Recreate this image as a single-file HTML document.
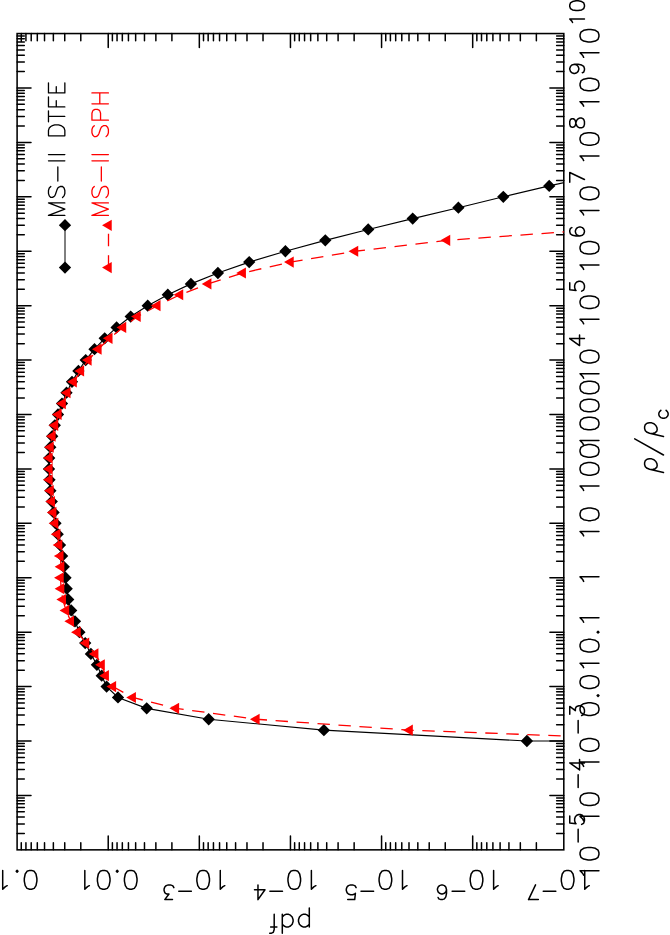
<!DOCTYPE html>
<html><head><meta charset="utf-8"><title>pdf</title>
<style>html,body{margin:0;padding:0;background:#fff;font-family:"Liberation Sans",sans-serif}svg{display:block}</style></head>
<body>
<svg width="670" height="935" viewBox="0 0 670 935">
<rect width="670" height="935" fill="#fff"/>
<path d="M17.10 833.47h7.20 M563.80 833.47h-7.20 M17.10 823.89h7.20 M563.80 823.89h-7.20 M17.10 817.09h7.20 M563.80 817.09h-7.20 M17.10 811.81h7.20 M563.80 811.81h-7.20 M17.10 807.50h7.20 M563.80 807.50h-7.20 M17.10 803.86h7.20 M563.80 803.86h-7.20 M17.10 800.70h7.20 M563.80 800.70h-7.20 M17.10 797.92h7.20 M563.80 797.92h-7.20 M17.10 795.43h13.90 M563.80 795.43h-13.90 M17.10 779.05h7.20 M563.80 779.05h-7.20 M17.10 769.47h7.20 M563.80 769.47h-7.20 M17.10 762.67h7.20 M563.80 762.67h-7.20 M17.10 757.39h7.20 M563.80 757.39h-7.20 M17.10 753.08h7.20 M563.80 753.08h-7.20 M17.10 749.44h7.20 M563.80 749.44h-7.20 M17.10 746.28h7.20 M563.80 746.28h-7.20 M17.10 743.50h7.20 M563.80 743.50h-7.20 M17.10 741.01h13.90 M563.80 741.01h-13.90 M17.10 724.63h7.20 M563.80 724.63h-7.20 M17.10 715.05h7.20 M563.80 715.05h-7.20 M17.10 708.25h7.20 M563.80 708.25h-7.20 M17.10 702.97h7.20 M563.80 702.97h-7.20 M17.10 698.66h7.20 M563.80 698.66h-7.20 M17.10 695.02h7.20 M563.80 695.02h-7.20 M17.10 691.86h7.20 M563.80 691.86h-7.20 M17.10 689.08h7.20 M563.80 689.08h-7.20 M17.10 686.59h13.90 M563.80 686.59h-13.90 M17.10 670.21h7.20 M563.80 670.21h-7.20 M17.10 660.63h7.20 M563.80 660.63h-7.20 M17.10 653.83h7.20 M563.80 653.83h-7.20 M17.10 648.55h7.20 M563.80 648.55h-7.20 M17.10 644.24h7.20 M563.80 644.24h-7.20 M17.10 640.60h7.20 M563.80 640.60h-7.20 M17.10 637.44h7.20 M563.80 637.44h-7.20 M17.10 634.66h7.20 M563.80 634.66h-7.20 M17.10 632.17h13.90 M563.80 632.17h-13.90 M17.10 615.79h7.20 M563.80 615.79h-7.20 M17.10 606.21h7.20 M563.80 606.21h-7.20 M17.10 599.41h7.20 M563.80 599.41h-7.20 M17.10 594.13h7.20 M563.80 594.13h-7.20 M17.10 589.82h7.20 M563.80 589.82h-7.20 M17.10 586.18h7.20 M563.80 586.18h-7.20 M17.10 583.02h7.20 M563.80 583.02h-7.20 M17.10 580.24h7.20 M563.80 580.24h-7.20 M17.10 577.75h13.90 M563.80 577.75h-13.90 M17.10 561.37h7.20 M563.80 561.37h-7.20 M17.10 551.79h7.20 M563.80 551.79h-7.20 M17.10 544.99h7.20 M563.80 544.99h-7.20 M17.10 539.71h7.20 M563.80 539.71h-7.20 M17.10 535.40h7.20 M563.80 535.40h-7.20 M17.10 531.76h7.20 M563.80 531.76h-7.20 M17.10 528.60h7.20 M563.80 528.60h-7.20 M17.10 525.82h7.20 M563.80 525.82h-7.20 M17.10 523.33h13.90 M563.80 523.33h-13.90 M17.10 506.95h7.20 M563.80 506.95h-7.20 M17.10 497.37h7.20 M563.80 497.37h-7.20 M17.10 490.57h7.20 M563.80 490.57h-7.20 M17.10 485.29h7.20 M563.80 485.29h-7.20 M17.10 480.98h7.20 M563.80 480.98h-7.20 M17.10 477.34h7.20 M563.80 477.34h-7.20 M17.10 474.18h7.20 M563.80 474.18h-7.20 M17.10 471.40h7.20 M563.80 471.40h-7.20 M17.10 468.91h13.90 M563.80 468.91h-13.90 M17.10 452.53h7.20 M563.80 452.53h-7.20 M17.10 442.95h7.20 M563.80 442.95h-7.20 M17.10 436.15h7.20 M563.80 436.15h-7.20 M17.10 430.87h7.20 M563.80 430.87h-7.20 M17.10 426.56h7.20 M563.80 426.56h-7.20 M17.10 422.92h7.20 M563.80 422.92h-7.20 M17.10 419.76h7.20 M563.80 419.76h-7.20 M17.10 416.98h7.20 M563.80 416.98h-7.20 M17.10 414.49h13.90 M563.80 414.49h-13.90 M17.10 398.11h7.20 M563.80 398.11h-7.20 M17.10 388.53h7.20 M563.80 388.53h-7.20 M17.10 381.73h7.20 M563.80 381.73h-7.20 M17.10 376.45h7.20 M563.80 376.45h-7.20 M17.10 372.14h7.20 M563.80 372.14h-7.20 M17.10 368.50h7.20 M563.80 368.50h-7.20 M17.10 365.34h7.20 M563.80 365.34h-7.20 M17.10 362.56h7.20 M563.80 362.56h-7.20 M17.10 360.07h13.90 M563.80 360.07h-13.90 M17.10 343.69h7.20 M563.80 343.69h-7.20 M17.10 334.11h7.20 M563.80 334.11h-7.20 M17.10 327.31h7.20 M563.80 327.31h-7.20 M17.10 322.03h7.20 M563.80 322.03h-7.20 M17.10 317.72h7.20 M563.80 317.72h-7.20 M17.10 314.08h7.20 M563.80 314.08h-7.20 M17.10 310.92h7.20 M563.80 310.92h-7.20 M17.10 308.14h7.20 M563.80 308.14h-7.20 M17.10 305.65h13.90 M563.80 305.65h-13.90 M17.10 289.27h7.20 M563.80 289.27h-7.20 M17.10 279.69h7.20 M563.80 279.69h-7.20 M17.10 272.89h7.20 M563.80 272.89h-7.20 M17.10 267.61h7.20 M563.80 267.61h-7.20 M17.10 263.30h7.20 M563.80 263.30h-7.20 M17.10 259.66h7.20 M563.80 259.66h-7.20 M17.10 256.50h7.20 M563.80 256.50h-7.20 M17.10 253.72h7.20 M563.80 253.72h-7.20 M17.10 251.23h13.90 M563.80 251.23h-13.90 M17.10 234.85h7.20 M563.80 234.85h-7.20 M17.10 225.27h7.20 M563.80 225.27h-7.20 M17.10 218.47h7.20 M563.80 218.47h-7.20 M17.10 213.19h7.20 M563.80 213.19h-7.20 M17.10 208.88h7.20 M563.80 208.88h-7.20 M17.10 205.24h7.20 M563.80 205.24h-7.20 M17.10 202.08h7.20 M563.80 202.08h-7.20 M17.10 199.30h7.20 M563.80 199.30h-7.20 M17.10 196.81h13.90 M563.80 196.81h-13.90 M17.10 180.43h7.20 M563.80 180.43h-7.20 M17.10 170.85h7.20 M563.80 170.85h-7.20 M17.10 164.05h7.20 M563.80 164.05h-7.20 M17.10 158.77h7.20 M563.80 158.77h-7.20 M17.10 154.46h7.20 M563.80 154.46h-7.20 M17.10 150.82h7.20 M563.80 150.82h-7.20 M17.10 147.66h7.20 M563.80 147.66h-7.20 M17.10 144.88h7.20 M563.80 144.88h-7.20 M17.10 142.39h13.90 M563.80 142.39h-13.90 M17.10 126.01h7.20 M563.80 126.01h-7.20 M17.10 116.43h7.20 M563.80 116.43h-7.20 M17.10 109.63h7.20 M563.80 109.63h-7.20 M17.10 104.35h7.20 M563.80 104.35h-7.20 M17.10 100.04h7.20 M563.80 100.04h-7.20 M17.10 96.40h7.20 M563.80 96.40h-7.20 M17.10 93.24h7.20 M563.80 93.24h-7.20 M17.10 90.46h7.20 M563.80 90.46h-7.20 M17.10 87.97h13.90 M563.80 87.97h-13.90 M17.10 71.59h7.20 M563.80 71.59h-7.20 M17.10 62.01h7.20 M563.80 62.01h-7.20 M17.10 55.21h7.20 M563.80 55.21h-7.20 M17.10 49.93h7.20 M563.80 49.93h-7.20 M17.10 45.62h7.20 M563.80 45.62h-7.20 M17.10 41.98h7.20 M563.80 41.98h-7.20 M17.10 38.82h7.20 M563.80 38.82h-7.20 M17.10 36.04h7.20 M563.80 36.04h-7.20 M80.79 33.55v7.20 M80.79 849.85v-7.20 M64.74 33.55v7.20 M64.74 849.85v-7.20 M53.36 33.55v7.20 M53.36 849.85v-7.20 M44.53 33.55v7.20 M44.53 849.85v-7.20 M37.31 33.55v7.20 M37.31 849.85v-7.20 M31.21 33.55v7.20 M31.21 849.85v-7.20 M25.93 33.55v7.20 M25.93 849.85v-7.20 M21.27 33.55v7.20 M21.27 849.85v-7.20 M108.22 33.55v13.90 M108.22 849.85v-13.90 M171.90 33.55v7.20 M171.90 849.85v-7.20 M155.86 33.55v7.20 M155.86 849.85v-7.20 M144.48 33.55v7.20 M144.48 849.85v-7.20 M135.65 33.55v7.20 M135.65 849.85v-7.20 M128.43 33.55v7.20 M128.43 849.85v-7.20 M122.33 33.55v7.20 M122.33 849.85v-7.20 M117.05 33.55v7.20 M117.05 849.85v-7.20 M112.39 33.55v7.20 M112.39 849.85v-7.20 M199.33 33.55v13.90 M199.33 849.85v-13.90 M263.02 33.55v7.20 M263.02 849.85v-7.20 M246.98 33.55v7.20 M246.98 849.85v-7.20 M235.59 33.55v7.20 M235.59 849.85v-7.20 M226.76 33.55v7.20 M226.76 849.85v-7.20 M219.55 33.55v7.20 M219.55 849.85v-7.20 M213.45 33.55v7.20 M213.45 849.85v-7.20 M208.16 33.55v7.20 M208.16 849.85v-7.20 M203.50 33.55v7.20 M203.50 849.85v-7.20 M290.45 33.55v13.90 M290.45 849.85v-13.90 M354.14 33.55v7.20 M354.14 849.85v-7.20 M338.09 33.55v7.20 M338.09 849.85v-7.20 M326.71 33.55v7.20 M326.71 849.85v-7.20 M317.88 33.55v7.20 M317.88 849.85v-7.20 M310.66 33.55v7.20 M310.66 849.85v-7.20 M304.56 33.55v7.20 M304.56 849.85v-7.20 M299.28 33.55v7.20 M299.28 849.85v-7.20 M294.62 33.55v7.20 M294.62 849.85v-7.20 M381.57 33.55v13.90 M381.57 849.85v-13.90 M445.25 33.55v7.20 M445.25 849.85v-7.20 M429.21 33.55v7.20 M429.21 849.85v-7.20 M417.83 33.55v7.20 M417.83 849.85v-7.20 M409.00 33.55v7.20 M409.00 849.85v-7.20 M401.78 33.55v7.20 M401.78 849.85v-7.20 M395.68 33.55v7.20 M395.68 849.85v-7.20 M390.40 33.55v7.20 M390.40 849.85v-7.20 M385.74 33.55v7.20 M385.74 849.85v-7.20 M472.68 33.55v13.90 M472.68 849.85v-13.90 M536.37 33.55v7.20 M536.37 849.85v-7.20 M520.33 33.55v7.20 M520.33 849.85v-7.20 M508.94 33.55v7.20 M508.94 849.85v-7.20 M500.11 33.55v7.20 M500.11 849.85v-7.20 M492.90 33.55v7.20 M492.90 849.85v-7.20 M486.80 33.55v7.20 M486.80 849.85v-7.20 M481.51 33.55v7.20 M481.51 849.85v-7.20 M476.85 33.55v7.20 M476.85 849.85v-7.20" stroke="#000" stroke-width="1.5" fill="none" stroke-linecap="round"/>
<rect x="17.10" y="33.55" width="546.70" height="816.30" fill="none" stroke="#000" stroke-width="1.55"/>
<clipPath id="c"><rect x="17.10" y="33.55" width="546.70" height="816.30"/></clipPath>
<g clip-path="url(#c)">
<polyline points="563.80,741.01 526.90,741.01 323.90,730.13 208.70,719.24 146.70,708.36 118.00,697.47 106.60,686.59 101.70,675.71 96.90,664.82 90.90,653.94 85.20,643.05 79.40,632.17 75.00,621.29 71.20,610.40 68.20,599.52 66.70,588.63 65.50,577.75 63.80,566.87 62.10,555.98 60.00,545.10 57.70,534.21 55.50,523.33 53.60,512.45 51.80,501.56 50.40,490.68 49.50,479.79 49.00,468.91 49.20,458.03 50.30,447.14 52.20,436.26 54.80,425.37 58.00,414.49 62.00,403.61 66.50,392.72 72.00,381.84 78.40,370.95 85.70,360.07 94.50,349.19 104.70,338.30 116.60,327.42 130.70,316.53 147.70,305.65 167.80,294.77 190.90,283.88 217.90,273.00 249.20,262.11 285.40,251.23 325.30,240.35 368.20,229.46 412.70,218.58 458.40,207.69 503.30,196.81 549.20,185.93 598.00,175.04" fill="none" stroke="#000" stroke-width="1.15"/>
</g>
<path d="M520.75 741.01l6.15 -6.15l6.15 6.15l-6.15 6.15z M317.75 730.13l6.15 -6.15l6.15 6.15l-6.15 6.15z M202.55 719.24l6.15 -6.15l6.15 6.15l-6.15 6.15z M140.55 708.36l6.15 -6.15l6.15 6.15l-6.15 6.15z M111.85 697.47l6.15 -6.15l6.15 6.15l-6.15 6.15z M100.45 686.59l6.15 -6.15l6.15 6.15l-6.15 6.15z M95.55 675.71l6.15 -6.15l6.15 6.15l-6.15 6.15z M90.75 664.82l6.15 -6.15l6.15 6.15l-6.15 6.15z M84.75 653.94l6.15 -6.15l6.15 6.15l-6.15 6.15z M79.05 643.05l6.15 -6.15l6.15 6.15l-6.15 6.15z M73.25 632.17l6.15 -6.15l6.15 6.15l-6.15 6.15z M68.85 621.29l6.15 -6.15l6.15 6.15l-6.15 6.15z M65.05 610.40l6.15 -6.15l6.15 6.15l-6.15 6.15z M62.05 599.52l6.15 -6.15l6.15 6.15l-6.15 6.15z M60.55 588.63l6.15 -6.15l6.15 6.15l-6.15 6.15z M59.35 577.75l6.15 -6.15l6.15 6.15l-6.15 6.15z M57.65 566.87l6.15 -6.15l6.15 6.15l-6.15 6.15z M55.95 555.98l6.15 -6.15l6.15 6.15l-6.15 6.15z M53.85 545.10l6.15 -6.15l6.15 6.15l-6.15 6.15z M51.55 534.21l6.15 -6.15l6.15 6.15l-6.15 6.15z M49.35 523.33l6.15 -6.15l6.15 6.15l-6.15 6.15z M47.45 512.45l6.15 -6.15l6.15 6.15l-6.15 6.15z M45.65 501.56l6.15 -6.15l6.15 6.15l-6.15 6.15z M44.25 490.68l6.15 -6.15l6.15 6.15l-6.15 6.15z M43.35 479.79l6.15 -6.15l6.15 6.15l-6.15 6.15z M42.85 468.91l6.15 -6.15l6.15 6.15l-6.15 6.15z M43.05 458.03l6.15 -6.15l6.15 6.15l-6.15 6.15z M44.15 447.14l6.15 -6.15l6.15 6.15l-6.15 6.15z M46.05 436.26l6.15 -6.15l6.15 6.15l-6.15 6.15z M48.65 425.37l6.15 -6.15l6.15 6.15l-6.15 6.15z M51.85 414.49l6.15 -6.15l6.15 6.15l-6.15 6.15z M55.85 403.61l6.15 -6.15l6.15 6.15l-6.15 6.15z M60.35 392.72l6.15 -6.15l6.15 6.15l-6.15 6.15z M65.85 381.84l6.15 -6.15l6.15 6.15l-6.15 6.15z M72.25 370.95l6.15 -6.15l6.15 6.15l-6.15 6.15z M79.55 360.07l6.15 -6.15l6.15 6.15l-6.15 6.15z M88.35 349.19l6.15 -6.15l6.15 6.15l-6.15 6.15z M98.55 338.30l6.15 -6.15l6.15 6.15l-6.15 6.15z M110.45 327.42l6.15 -6.15l6.15 6.15l-6.15 6.15z M124.55 316.53l6.15 -6.15l6.15 6.15l-6.15 6.15z M141.55 305.65l6.15 -6.15l6.15 6.15l-6.15 6.15z M161.65 294.77l6.15 -6.15l6.15 6.15l-6.15 6.15z M184.75 283.88l6.15 -6.15l6.15 6.15l-6.15 6.15z M211.75 273.00l6.15 -6.15l6.15 6.15l-6.15 6.15z M243.05 262.11l6.15 -6.15l6.15 6.15l-6.15 6.15z M279.25 251.23l6.15 -6.15l6.15 6.15l-6.15 6.15z M319.15 240.35l6.15 -6.15l6.15 6.15l-6.15 6.15z M362.05 229.46l6.15 -6.15l6.15 6.15l-6.15 6.15z M406.55 218.58l6.15 -6.15l6.15 6.15l-6.15 6.15z M452.25 207.69l6.15 -6.15l6.15 6.15l-6.15 6.15z M497.15 196.81l6.15 -6.15l6.15 6.15l-6.15 6.15z M543.05 185.93l6.15 -6.15l6.15 6.15l-6.15 6.15z" fill="#000"/>
<g clip-path="url(#c)">
<polyline points="697.00,741.01 409.60,730.13 256.40,719.24 175.90,708.36 132.70,697.47 112.90,686.59 105.70,675.71 101.60,664.82 95.20,653.94 86.00,643.05 77.50,632.17 70.80,621.29 66.00,610.40 62.80,599.52 61.10,588.63 60.50,577.75 61.10,566.87 60.30,555.98 59.10,545.10 57.20,534.21 55.10,523.33 53.20,512.45 51.70,501.56 50.50,490.68 49.40,479.79 49.40,468.91 49.40,458.03 50.50,447.14 52.40,436.26 55.00,425.37 58.40,414.49 62.60,403.61 67.30,392.72 73.60,381.84 80.90,370.95 88.40,360.07 98.40,349.19 109.30,338.30 123.00,327.42 137.50,316.53 157.30,305.65 180.00,294.77 208.20,283.88" fill="none" stroke="#f00" stroke-width="1.3" stroke-dasharray="12.41 8.602" stroke-dashoffset="10.686"/>
<polyline points="208.20,283.88 242.70,273.00 290.50,262.11 355.00,251.23 447.00,240.35 598.00,229.46" fill="none" stroke="#f00" stroke-width="1.3" stroke-dasharray="12.45 8.634" stroke-dashoffset="20.43"/>
</g>
<path d="M403.15 730.13L412.83 724.54L412.83 735.71z M249.95 719.24L259.62 713.66L259.62 724.83z M169.45 708.36L179.12 702.77L179.12 713.94z M126.25 697.47L135.92 691.89L135.92 703.06z M106.45 686.59L116.12 681.00L116.12 692.18z M99.25 675.71L108.92 670.12L108.92 681.29z M95.15 664.82L104.82 659.24L104.82 670.41z M88.75 653.94L98.42 648.35L98.42 659.52z M79.55 643.05L89.22 637.47L89.22 648.64z M71.05 632.17L80.72 626.58L80.72 637.76z M64.35 621.29L74.02 615.70L74.02 626.87z M59.55 610.40L69.22 604.82L69.22 615.99z M56.35 599.52L66.02 593.93L66.02 605.10z M54.65 588.63L64.33 583.05L64.33 594.22z M54.05 577.75L63.73 572.16L63.73 583.34z M54.65 566.87L64.33 561.28L64.33 572.45z M53.85 555.98L63.52 550.40L63.52 561.57z M52.65 545.10L62.33 539.51L62.33 550.68z M50.75 534.21L60.43 528.63L60.43 539.80z M48.65 523.33L58.33 517.74L58.33 528.92z M46.75 512.45L56.43 506.86L56.43 518.03z M45.25 501.56L54.93 495.98L54.93 507.15z M44.05 490.68L53.73 485.09L53.73 496.26z M42.95 479.79L52.62 474.21L52.62 485.38z M42.95 468.91L52.62 463.32L52.62 474.50z M42.95 458.03L52.62 452.44L52.62 463.61z M44.05 447.14L53.73 441.56L53.73 452.73z M45.95 436.26L55.62 430.67L55.62 441.84z M48.55 425.37L58.23 419.79L58.23 430.96z M51.95 414.49L61.62 408.90L61.62 420.08z M56.15 403.61L65.83 398.02L65.83 409.19z M60.85 392.72L70.52 387.14L70.52 398.31z M67.15 381.84L76.82 376.25L76.82 387.42z M74.45 370.95L84.12 365.37L84.12 376.54z M81.95 360.07L91.62 354.48L91.62 365.66z M91.95 349.19L101.62 343.60L101.62 354.77z M102.85 338.30L112.52 332.72L112.52 343.89z M116.55 327.42L126.22 321.83L126.22 333.00z M131.05 316.53L140.72 310.95L140.72 322.12z M150.85 305.65L160.53 300.06L160.53 311.24z M173.55 294.77L183.22 289.18L183.22 300.35z M201.75 283.88L211.42 278.30L211.42 289.47z M236.25 273.00L245.92 267.41L245.92 278.58z M284.05 262.11L293.73 256.53L293.73 267.70z M348.55 251.23L358.23 245.64L358.23 256.82z M440.55 240.35L450.23 234.76L450.23 245.93z" fill="#f00"/>
<path d="M65 225.2V267.6" stroke="#000" stroke-width="1" fill="none"/>
<path d="M58.85 225.20l6.15 -6.15l6.15 6.15l-6.15 6.15z" fill="#000"/>
<path d="M58.85 267.60l6.15 -6.15l6.15 6.15l-6.15 6.15z" fill="#000"/>
<path d="M108.5 267.6V225.2" stroke="#f00" stroke-width="1.3" stroke-dasharray="12.4 9" fill="none"/>
<path d="M102.05 225.30L111.72 219.71L111.72 230.89z M102.05 267.60L111.72 262.01L111.72 273.19z" fill="#f00"/>
<path d="M48.47 215.38 L64.85 215.38 M48.47 215.38 L64.85 209.14 M48.47 202.90 L64.85 209.14 M48.47 202.90 L64.85 202.90 M50.81 186.52 L49.25 188.08 L48.47 190.42 L48.47 193.54 L49.25 195.88 L50.81 197.44 L52.37 197.44 L53.93 196.66 L54.71 195.88 L55.49 194.32 L57.05 189.64 L57.83 188.08 L58.61 187.30 L60.17 186.52 L62.51 186.52 L64.07 188.08 L64.85 190.42 L64.85 193.54 L64.07 195.88 L62.51 197.44 M57.83 181.06 L57.83 167.02 M48.47 160.78 L64.85 160.78 M48.47 154.54 L64.85 154.54 M48.47 135.82 L64.85 135.82 M48.47 135.82 L48.47 130.36 L49.25 128.02 L50.81 126.46 L52.37 125.68 L54.71 124.90 L58.61 124.90 L60.95 125.68 L62.51 126.46 L64.07 128.02 L64.85 130.36 L64.85 135.82 M48.47 116.32 L64.85 116.32 M48.47 121.78 L48.47 110.86 M48.47 106.96 L64.85 106.96 M48.47 106.96 L48.47 96.82 M56.27 106.96 L56.27 100.72 M48.47 92.92 L64.85 92.92 M48.47 92.92 L48.47 82.78 M56.27 92.92 L56.27 86.68 M64.85 92.92 L64.85 82.78" stroke="#000" stroke-width="1.3" fill="none" stroke-linejoin="round" stroke-linecap="round"/>
<path d="M91.94 215.38 L108.40 215.38 M91.94 215.38 L108.40 209.14 M91.94 202.90 L108.40 209.14 M91.94 202.90 L108.40 202.90 M94.29 186.52 L92.72 188.08 L91.94 190.42 L91.94 193.54 L92.72 195.88 L94.29 197.44 L95.86 197.44 L97.43 196.66 L98.21 195.88 L98.99 194.32 L100.56 189.64 L101.34 188.08 L102.13 187.30 L103.70 186.52 L106.05 186.52 L107.62 188.08 L108.40 190.42 L108.40 193.54 L107.62 195.88 L106.05 197.44 M101.34 181.06 L101.34 167.02 M91.94 160.78 L108.40 160.78 M91.94 154.54 L108.40 154.54 M94.29 125.68 L92.72 127.24 L91.94 129.58 L91.94 132.70 L92.72 135.04 L94.29 136.60 L95.86 136.60 L97.43 135.82 L98.21 135.04 L98.99 133.48 L100.56 128.80 L101.34 127.24 L102.13 126.46 L103.70 125.68 L106.05 125.68 L107.62 127.24 L108.40 129.58 L108.40 132.70 L107.62 135.04 L106.05 136.60 M91.94 120.22 L108.40 120.22 M91.94 120.22 L91.94 113.20 L92.72 110.86 L93.51 110.08 L95.07 109.30 L97.43 109.30 L98.99 110.08 L99.78 110.86 L100.56 113.20 L100.56 120.22 M91.94 103.84 L108.40 103.84 M91.94 92.92 L108.40 92.92 M99.78 103.84 L99.78 92.92" stroke="#f00" stroke-width="1.3" fill="none" stroke-linejoin="round" stroke-linecap="round"/>
<path d="M583.65 875.28 L582.75 873.48 L580.05 870.78 L598.95 870.78 M580.05 854.58 L580.95 857.28 L583.65 859.08 L588.15 859.98 L590.85 859.98 L595.35 859.08 L598.05 857.28 L598.95 854.58 L598.95 852.78 L598.05 850.08 L595.35 848.28 L590.85 847.38 L588.15 847.38 L583.65 848.28 L580.95 850.08 L580.05 852.78 L580.05 854.58 M578.15 841.88 L578.15 829.28 M569.75 815.98 L569.75 822.98 L576.05 823.68 L575.35 822.98 L574.65 820.88 L574.65 818.78 L575.35 816.68 L576.75 815.28 L578.85 814.58 L580.25 814.58 L582.35 815.28 L583.75 816.68 L584.45 818.78 L584.45 820.88 L583.75 822.98 L583.05 823.68 L581.65 824.38 M583.65 820.86 L582.75 819.06 L580.05 816.36 L598.95 816.36 M580.05 800.16 L580.95 802.86 L583.65 804.66 L588.15 805.56 L590.85 805.56 L595.35 804.66 L598.05 802.86 L598.95 800.16 L598.95 798.36 L598.05 795.66 L595.35 793.86 L590.85 792.96 L588.15 792.96 L583.65 793.86 L580.95 795.66 L580.05 798.36 L580.05 800.16 M578.15 787.46 L578.15 774.86 M569.75 762.96 L579.55 769.96 L579.55 759.46 M569.75 762.96 L584.45 762.96 M583.65 766.44 L582.75 764.64 L580.05 761.94 L598.95 761.94 M580.05 745.74 L580.95 748.44 L583.65 750.24 L588.15 751.14 L590.85 751.14 L595.35 750.24 L598.05 748.44 L598.95 745.74 L598.95 743.94 L598.05 741.24 L595.35 739.44 L590.85 738.54 L588.15 738.54 L583.65 739.44 L580.95 741.24 L580.05 743.94 L580.05 745.74 M578.15 733.04 L578.15 720.44 M569.75 714.14 L569.75 706.44 L575.35 710.64 L575.35 708.54 L576.05 707.14 L576.75 706.44 L578.85 705.74 L580.25 705.74 L582.35 706.44 L583.75 707.84 L584.45 709.94 L584.45 712.04 L583.75 714.14 L583.05 714.84 L581.65 715.54 M580.05 709.99 L580.95 712.69 L583.65 714.49 L588.15 715.39 L590.85 715.39 L595.35 714.49 L598.05 712.69 L598.95 709.99 L598.95 708.19 L598.05 705.49 L595.35 703.69 L590.85 702.79 L588.15 702.79 L583.65 703.69 L580.95 705.49 L580.05 708.19 L580.05 709.99 M597.15 695.59 L598.05 696.49 L598.95 695.59 L598.05 694.69 L597.15 695.59 M580.05 682.99 L580.95 685.69 L583.65 687.49 L588.15 688.39 L590.85 688.39 L595.35 687.49 L598.05 685.69 L598.95 682.99 L598.95 681.19 L598.05 678.49 L595.35 676.69 L590.85 675.79 L588.15 675.79 L583.65 676.69 L580.95 678.49 L580.05 681.19 L580.05 682.99 M583.65 667.69 L582.75 665.89 L580.05 663.19 L598.95 663.19 M580.05 646.57 L580.95 649.27 L583.65 651.07 L588.15 651.97 L590.85 651.97 L595.35 651.07 L598.05 649.27 L598.95 646.57 L598.95 644.77 L598.05 642.07 L595.35 640.27 L590.85 639.37 L588.15 639.37 L583.65 640.27 L580.95 642.07 L580.05 644.77 L580.05 646.57 M597.15 632.17 L598.05 633.07 L598.95 632.17 L598.05 631.27 L597.15 632.17 M583.65 622.27 L582.75 620.47 L580.05 617.77 L598.95 617.77 M583.65 581.35 L582.75 579.55 L580.05 576.85 L598.95 576.85 M583.65 535.93 L582.75 534.13 L580.05 531.43 L598.95 531.43 M580.05 515.23 L580.95 517.93 L583.65 519.73 L588.15 520.63 L590.85 520.63 L595.35 519.73 L598.05 517.93 L598.95 515.23 L598.95 513.43 L598.05 510.73 L595.35 508.93 L590.85 508.03 L588.15 508.03 L583.65 508.93 L580.95 510.73 L580.05 513.43 L580.05 515.23 M583.65 490.51 L582.75 488.71 L580.05 486.01 L598.95 486.01 M580.05 469.81 L580.95 472.51 L583.65 474.31 L588.15 475.21 L590.85 475.21 L595.35 474.31 L598.05 472.51 L598.95 469.81 L598.95 468.01 L598.05 465.31 L595.35 463.51 L590.85 462.61 L588.15 462.61 L583.65 463.51 L580.95 465.31 L580.05 468.01 L580.05 469.81 M580.05 451.81 L580.95 454.51 L583.65 456.31 L588.15 457.21 L590.85 457.21 L595.35 456.31 L598.05 454.51 L598.95 451.81 L598.95 450.01 L598.05 447.31 L595.35 445.51 L590.85 444.61 L588.15 444.61 L583.65 445.51 L580.95 447.31 L580.05 450.01 L580.05 451.81 M583.65 445.09 L582.75 443.29 L580.05 440.59 L598.95 440.59 M580.05 424.39 L580.95 427.09 L583.65 428.89 L588.15 429.79 L590.85 429.79 L595.35 428.89 L598.05 427.09 L598.95 424.39 L598.95 422.59 L598.05 419.89 L595.35 418.09 L590.85 417.19 L588.15 417.19 L583.65 418.09 L580.95 419.89 L580.05 422.59 L580.05 424.39 M580.05 406.39 L580.95 409.09 L583.65 410.89 L588.15 411.79 L590.85 411.79 L595.35 410.89 L598.05 409.09 L598.95 406.39 L598.95 404.59 L598.05 401.89 L595.35 400.09 L590.85 399.19 L588.15 399.19 L583.65 400.09 L580.95 401.89 L580.05 404.59 L580.05 406.39 M580.05 388.39 L580.95 391.09 L583.65 392.89 L588.15 393.79 L590.85 393.79 L595.35 392.89 L598.05 391.09 L598.95 388.39 L598.95 386.59 L598.05 383.89 L595.35 382.09 L590.85 381.19 L588.15 381.19 L583.65 382.09 L580.95 383.89 L580.05 386.59 L580.05 388.39 M583.65 378.25 L582.75 376.45 L580.05 373.75 L598.95 373.75 M580.05 357.55 L580.95 360.25 L583.65 362.05 L588.15 362.95 L590.85 362.95 L595.35 362.05 L598.05 360.25 L598.95 357.55 L598.95 355.75 L598.05 353.05 L595.35 351.25 L590.85 350.35 L588.15 350.35 L583.65 351.25 L580.95 353.05 L580.05 355.75 L580.05 357.55 M569.75 338.55 L579.55 345.55 L579.55 335.05 M569.75 338.55 L584.45 338.55 M583.65 323.83 L582.75 322.03 L580.05 319.33 L598.95 319.33 M580.05 303.13 L580.95 305.83 L583.65 307.63 L588.15 308.53 L590.85 308.53 L595.35 307.63 L598.05 305.83 L598.95 303.13 L598.95 301.33 L598.05 298.63 L595.35 296.83 L590.85 295.93 L588.15 295.93 L583.65 296.83 L580.95 298.63 L580.05 301.33 L580.05 303.13 M569.75 282.73 L569.75 289.73 L576.05 290.43 L575.35 289.73 L574.65 287.63 L574.65 285.53 L575.35 283.43 L576.75 282.03 L578.85 281.33 L580.25 281.33 L582.35 282.03 L583.75 283.43 L584.45 285.53 L584.45 287.63 L583.75 289.73 L583.05 290.43 L581.65 291.13 M583.65 269.41 L582.75 267.61 L580.05 264.91 L598.95 264.91 M580.05 248.71 L580.95 251.41 L583.65 253.21 L588.15 254.11 L590.85 254.11 L595.35 253.21 L598.05 251.41 L598.95 248.71 L598.95 246.91 L598.05 244.21 L595.35 242.41 L590.85 241.51 L588.15 241.51 L583.65 242.41 L580.95 244.21 L580.05 246.91 L580.05 248.71 M571.85 227.61 L570.45 228.31 L569.75 230.41 L569.75 231.81 L570.45 233.91 L572.55 235.31 L576.05 236.01 L579.55 236.01 L582.35 235.31 L583.75 233.91 L584.45 231.81 L584.45 231.11 L583.75 229.01 L582.35 227.61 L580.25 226.91 L579.55 226.91 L577.45 227.61 L576.05 229.01 L575.35 231.11 L575.35 231.81 L576.05 233.91 L577.45 235.31 L579.55 236.01 M583.65 214.99 L582.75 213.19 L580.05 210.49 L598.95 210.49 M580.05 194.29 L580.95 196.99 L583.65 198.79 L588.15 199.69 L590.85 199.69 L595.35 198.79 L598.05 196.99 L598.95 194.29 L598.95 192.49 L598.05 189.79 L595.35 187.99 L590.85 187.09 L588.15 187.09 L583.65 187.99 L580.95 189.79 L580.05 192.49 L580.05 194.29 M569.75 172.49 L584.45 179.49 M569.75 182.29 L569.75 172.49 M583.65 160.57 L582.75 158.77 L580.05 156.07 L598.95 156.07 M580.05 139.87 L580.95 142.57 L583.65 144.37 L588.15 145.27 L590.85 145.27 L595.35 144.37 L598.05 142.57 L598.95 139.87 L598.95 138.07 L598.05 135.37 L595.35 133.57 L590.85 132.67 L588.15 132.67 L583.65 133.57 L580.95 135.37 L580.05 138.07 L580.05 139.87 M569.75 124.37 L570.45 126.47 L571.85 127.17 L573.25 127.17 L574.65 126.47 L575.35 125.07 L576.05 122.27 L576.75 120.17 L578.15 118.77 L579.55 118.07 L581.65 118.07 L583.05 118.77 L583.75 119.47 L584.45 121.57 L584.45 124.37 L583.75 126.47 L583.05 127.17 L581.65 127.87 L579.55 127.87 L578.15 127.17 L576.75 125.77 L576.05 123.67 L575.35 120.87 L574.65 119.47 L573.25 118.77 L571.85 118.77 L570.45 119.47 L569.75 121.57 L569.75 124.37 M583.65 106.15 L582.75 104.35 L580.05 101.65 L598.95 101.65 M580.05 85.45 L580.95 88.15 L583.65 89.95 L588.15 90.85 L590.85 90.85 L595.35 89.95 L598.05 88.15 L598.95 85.45 L598.95 83.65 L598.05 80.95 L595.35 79.15 L590.85 78.25 L588.15 78.25 L583.65 79.15 L580.95 80.95 L580.05 83.65 L580.05 85.45 M574.65 64.35 L576.75 65.05 L578.15 66.45 L578.85 68.55 L578.85 69.25 L578.15 71.35 L576.75 72.75 L574.65 73.45 L573.95 73.45 L571.85 72.75 L570.45 71.35 L569.75 69.25 L569.75 68.55 L570.45 66.45 L571.85 65.05 L574.65 64.35 L578.15 64.35 L581.65 65.05 L583.75 66.45 L584.45 68.55 L584.45 69.95 L583.75 72.05 L582.35 72.75 M583.65 57.31 L582.75 55.51 L580.05 52.81 L598.95 52.81 M580.05 36.61 L580.95 39.31 L583.65 41.11 L588.15 42.01 L590.85 42.01 L595.35 41.11 L598.05 39.31 L598.95 36.61 L598.95 34.81 L598.05 32.11 L595.35 30.31 L590.85 29.41 L588.15 29.41 L583.65 30.31 L580.95 32.11 L580.05 34.81 L580.05 36.61 M572.55 22.51 L571.85 21.11 L569.75 19.01 L584.45 19.01 M569.75 6.41 L570.45 8.51 L572.55 9.91 L576.05 10.61 L578.15 10.61 L581.65 9.91 L583.75 8.51 L584.45 6.41 L584.45 5.01 L583.75 2.91 L581.65 1.51 L578.15 0.81 L576.05 0.81 L572.55 1.51 L570.45 2.91 L569.75 5.01 L569.75 6.41 M31.50 889.30 L34.20 888.40 L36.00 885.70 L36.90 881.20 L36.90 878.50 L36.00 874.00 L34.20 871.30 L31.50 870.40 L29.70 870.40 L27.00 871.30 L25.20 874.00 L24.30 878.50 L24.30 881.20 L25.20 885.70 L27.00 888.40 L29.70 889.30 L31.50 889.30 M17.10 872.20 L18.00 871.30 L17.10 870.40 L16.20 871.30 L17.10 872.20 M7.20 885.70 L5.40 886.60 L2.70 889.30 L2.70 870.40 M131.62 889.30 L134.32 888.40 L136.12 885.70 L137.02 881.20 L137.02 878.50 L136.12 874.00 L134.32 871.30 L131.62 870.40 L129.82 870.40 L127.12 871.30 L125.32 874.00 L124.42 878.50 L124.42 881.20 L125.32 885.70 L127.12 888.40 L129.82 889.30 L131.62 889.30 M117.22 872.20 L118.12 871.30 L117.22 870.40 L116.32 871.30 L117.22 872.20 M104.62 889.30 L107.32 888.40 L109.12 885.70 L110.02 881.20 L110.02 878.50 L109.12 874.00 L107.32 871.30 L104.62 870.40 L102.82 870.40 L100.12 871.30 L98.32 874.00 L97.42 878.50 L97.42 881.20 L98.32 885.70 L100.12 888.40 L102.82 889.30 L104.62 889.30 M89.32 885.70 L87.52 886.60 L84.82 889.30 L84.82 870.40 M224.77 885.70 L222.97 886.60 L220.27 889.30 L220.27 870.40 M204.07 889.30 L206.77 888.40 L208.57 885.70 L209.47 881.20 L209.47 878.50 L208.57 874.00 L206.77 871.30 L204.07 870.40 L202.27 870.40 L199.57 871.30 L197.77 874.00 L196.87 878.50 L196.87 881.20 L197.77 885.70 L199.57 888.40 L202.27 889.30 L204.07 889.30 M191.37 891.20 L178.77 891.20 M172.47 899.60 L164.77 899.60 L168.97 894.00 L166.87 894.00 L165.47 893.30 L164.77 892.60 L164.07 890.50 L164.07 889.10 L164.77 887.00 L166.17 885.60 L168.27 884.90 L170.37 884.90 L172.47 885.60 L173.17 886.30 L173.87 887.70 M315.88 885.70 L314.08 886.60 L311.38 889.30 L311.38 870.40 M295.18 889.30 L297.88 888.40 L299.68 885.70 L300.58 881.20 L300.58 878.50 L299.68 874.00 L297.88 871.30 L295.18 870.40 L293.38 870.40 L290.68 871.30 L288.88 874.00 L287.98 878.50 L287.98 881.20 L288.88 885.70 L290.68 888.40 L293.38 889.30 L295.18 889.30 M282.48 891.20 L269.88 891.20 M257.98 899.60 L264.98 889.80 L254.48 889.80 M257.98 899.60 L257.98 884.90 M407.00 885.70 L405.20 886.60 L402.50 889.30 L402.50 870.40 M386.30 889.30 L389.00 888.40 L390.80 885.70 L391.70 881.20 L391.70 878.50 L390.80 874.00 L389.00 871.30 L386.30 870.40 L384.50 870.40 L381.80 871.30 L380.00 874.00 L379.10 878.50 L379.10 881.20 L380.00 885.70 L381.80 888.40 L384.50 889.30 L386.30 889.30 M373.60 891.20 L361.00 891.20 M347.70 899.60 L354.70 899.60 L355.40 893.30 L354.70 894.00 L352.60 894.70 L350.50 894.70 L348.40 894.00 L347.00 892.60 L346.30 890.50 L346.30 889.10 L347.00 887.00 L348.40 885.60 L350.50 884.90 L352.60 884.90 L354.70 885.60 L355.40 886.30 L356.10 887.70 M498.12 885.70 L496.32 886.60 L493.62 889.30 L493.62 870.40 M477.42 889.30 L480.12 888.40 L481.92 885.70 L482.82 881.20 L482.82 878.50 L481.92 874.00 L480.12 871.30 L477.42 870.40 L475.62 870.40 L472.92 871.30 L471.12 874.00 L470.22 878.50 L470.22 881.20 L471.12 885.70 L472.92 888.40 L475.62 889.30 L477.42 889.30 M464.72 891.20 L452.12 891.20 M438.12 897.50 L438.82 898.90 L440.92 899.60 L442.32 899.60 L444.42 898.90 L445.82 896.80 L446.52 893.30 L446.52 889.80 L445.82 887.00 L444.42 885.60 L442.32 884.90 L441.62 884.90 L439.52 885.60 L438.12 887.00 L437.42 889.10 L437.42 889.80 L438.12 891.90 L439.52 893.30 L441.62 894.00 L442.32 894.00 L444.42 893.30 L445.82 891.90 L446.52 889.80 M589.23 885.70 L587.43 886.60 L584.73 889.30 L584.73 870.40 M568.53 889.30 L571.23 888.40 L573.03 885.70 L573.93 881.20 L573.93 878.50 L573.03 874.00 L571.23 871.30 L568.53 870.40 L566.73 870.40 L564.03 871.30 L562.23 874.00 L561.33 878.50 L561.33 881.20 L562.23 885.70 L564.03 888.40 L566.73 889.30 L568.53 889.30 M555.83 891.20 L543.23 891.20 M528.53 899.60 L535.53 884.90 M538.33 899.60 L528.53 899.60 M309.30 926.90 L309.30 908.00 M309.30 924.20 L307.50 926.00 L305.70 926.90 L303.00 926.90 L301.20 926.00 L299.40 924.20 L298.50 921.50 L298.50 919.70 L299.40 917.00 L301.20 915.20 L303.00 914.30 L305.70 914.30 L307.50 915.20 L309.30 917.00 M282.30 933.20 L282.30 914.30 M282.30 924.20 L284.10 926.00 L285.90 926.90 L288.60 926.90 L290.40 926.00 L292.20 924.20 L293.10 921.50 L293.10 919.70 L292.20 917.00 L290.40 915.20 L288.60 914.30 L285.90 914.30 L284.10 915.20 L282.30 917.00 M269.70 933.20 L271.50 933.20 L273.30 932.30 L274.20 929.60 L274.20 914.30 M276.90 926.90 L270.60 926.90 M663.50 472.55 L649.55 469.22 L647.12 468.32 L645.32 466.70 L644.60 464.45 L644.60 462.65 L645.32 460.58 L647.03 459.23 L649.28 458.69 L651.62 458.87 L653.96 459.77 L655.85 461.48 L656.93 463.64 L657.20 465.62 L656.66 467.42 L655.22 468.68 L653.24 469.31 L651.26 469.40 L649.55 469.22 M634.70 438.80 L663.50 455.00 M663.50 436.55 L649.55 433.22 L647.12 432.32 L645.32 430.70 L644.60 428.45 L644.60 426.65 L645.32 424.58 L647.03 423.23 L649.28 422.69 L651.62 422.87 L653.96 423.77 L655.85 425.48 L656.93 427.64 L657.20 429.62 L656.66 431.42 L655.22 432.68 L653.24 433.31 L651.26 433.40 L649.55 433.22 M660.84 410.40 L659.52 411.72 L658.86 413.04 L658.86 415.02 L659.52 416.34 L660.84 417.66 L662.82 418.32 L664.14 418.32 L666.12 417.66 L667.44 416.34 L668.10 415.02 L668.10 413.04 L667.44 411.72 L666.12 410.40" stroke="#000" stroke-width="1.5" fill="none" stroke-linejoin="round" stroke-linecap="round"/>
</svg>
</body></html>
